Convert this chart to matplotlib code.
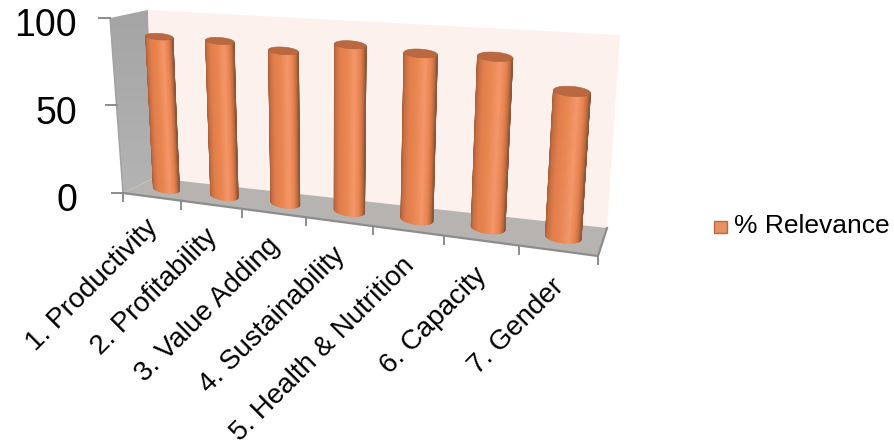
import numpy as np
import matplotlib
matplotlib.use("Agg")
import matplotlib.pyplot as plt
from matplotlib.collections import PolyCollection
from matplotlib.colors import LinearSegmentedColormap
from matplotlib.patches import Polygon

plt.rcParams["font.family"] = ["Liberation Sans", "DejaVu Sans"]

categories = ["1. Productivity", "2. Profitability", "3. Value Adding",
              "4. Sustainability", "5. Health & Nutrition", "6. Capacity",
              "7. Gender"]
relevance = [88, 88, 85, 91, 89, 90, 75]
value_ticks = [0, 50, 100]
series_name = "% Relevance"

# corners of the 3D box on the canvas: (front/back, bottom/top, left/right)
FBL, FBR = np.array([123., 193.]), np.array([598., 256.])
FTL, FTR = np.array([110., 18.]), np.array([612., 56.])
BBL, BBR = np.array([154., 178.]), np.array([607., 228.])
BTL, BTR = np.array([148., 10.]), np.array([620., 35.])
n_cat = len(categories)
persp = 1.2
rx = 0.23

shade = LinearSegmentedColormap.from_list("cyl", [
    (0.00, "#a85f3c"), (0.06, "#c96f43"), (0.20, "#e27f4c"), (0.40, "#e8854f"),
    (0.66, "#f5966a"), (0.84, "#e6824e"), (0.95, "#bb6a41"),
    (1.00, "#8f5737")])


def project(x, z, d):
    """category position, value, depth (0 front .. 1 back) -> canvas x, y"""
    t = np.asarray(x, dtype=float) / n_cat
    s = t / (t + persp * (1 - t))
    h = np.asarray(z, dtype=float) / 100.0
    pts = []
    for c in range(2):
        bottom_f = FBL[c] + s * (FBR[c] - FBL[c])
        top_f = FTL[c] + s * (FTR[c] - FTL[c])
        bottom_b = BBL[c] + s * (BBR[c] - BBL[c])
        top_b = BTL[c] + s * (BTR[c] - BTL[c])
        f = bottom_f + h * (top_f - bottom_f)
        b = bottom_b + h * (top_b - bottom_b)
        pts.append(f + d * (b - f))
    return np.stack(pts, axis=-1)


def ring(x0, z, theta):
    """ellipse of a cylinder end, lying along the category direction"""
    c = project(x0, z, 0.5)
    right = project(x0 + rx, z, 0.5) - c
    depth_dy = abs(project(x0, z, 1)[1] - project(x0, z, 0)[1])
    minor = 0.15 * depth_dy + 1.8
    px = c[0] + right[0] * np.cos(theta)
    py = c[1] + right[1] * np.cos(theta) - minor * np.sin(theta)
    return np.column_stack([px, py])


fig = plt.figure(figsize=(8.94, 4.44), dpi=100)
ax = fig.add_axes([0, 0, 1, 1])

# side wall with a soft vertical gradient, clipped to its outline
side = Polygon([FTL, BTL, BBL, FBL], closed=True, transform=ax.transData, fc="none", ec="none")
ax.add_patch(side)
grad = np.linspace(0, 1, 64)[:, None]
im = ax.imshow(grad, extent=(100, 160, 200, 5), aspect="auto", zorder=1,
               cmap=LinearSegmentedColormap.from_list("w", ["#a4a4a4", "#b4b4b4"]))
im.set_clip_path(side)

ax.add_patch(Polygon([BTL, BTR, BBR, BBL], closed=True, fc="#fcf1ec", ec="none", zorder=1))
ax.add_patch(Polygon([FBL, FBR, BBR, BBL], closed=True, fc="#b7b3b1", ec="none", zorder=2))

# axis lines and ticks
line_c = "#8c8c8c"
ax.plot(*np.array([FTL, FBL]).T, color="#a0a0a0", lw=1.0, zorder=3)
ax.plot(*np.array([FBL, FBR, BBR]).T, color=line_c, lw=1.6, zorder=3, solid_joinstyle="miter")
for v in value_ticks:
    p = project(0, v, 0)
    ax.plot([p[0] - 11, p[0]], [p[1], p[1]], color=line_c, lw=1.4, zorder=3)
    ax.text(77, p[1] + 8, str(v), fontsize=27, ha="right", va="center", color="black")
for i in range(n_cat + 1):
    p = project(i, 0, 0)
    ax.plot([p[0], p[0]], [p[1], p[1] + 8], color=line_c, lw=1.4, zorder=3)

# cylinders: front half as thin strips, then the top cap
theta = np.linspace(np.pi, 2 * np.pi, 61)
cap = np.linspace(0, 2 * np.pi, 81)
for i, val in enumerate(relevance):
    x0 = i + 0.5
    low = ring(x0, 0, theta)
    high = ring(x0, val, theta)
    quads, cols = [], []
    for k in range(len(theta) - 1):
        quads.append([low[k], low[k + 1], high[k + 1], high[k]])
        cols.append(shade((np.cos(theta[k] + np.pi / 120) + 1) / 2))
    ax.add_collection(PolyCollection(quads, facecolors=cols, edgecolors=cols, linewidths=0.5, zorder=4 + i))
    ax.add_patch(Polygon(ring(x0, val, cap), closed=True, fc="#b9683f", ec="#b0623a", lw=0.4, zorder=4 + i))

    # category label hangs under the front edge of the floor
    p = project(x0, 0, 0)
    ax.text(p[0] - 7, p[1] + 18 + i * 0.9, categories[i], fontsize=20, rotation=45,
            rotation_mode="anchor", ha="right", va="top", color="black")

# legend key and text
ax.add_patch(plt.Rectangle((714, 221), 13, 12, fc="#e8905f", ec="#b9683f", lw=1, zorder=3))
ax.text(734, 226, series_name, fontsize=19, ha="left", va="center", color="black")

ax.set_xlim(0, 894)
ax.set_ylim(444, 0)
ax.axis("off")
fig.savefig("out.png", dpi=100, facecolor="white")
